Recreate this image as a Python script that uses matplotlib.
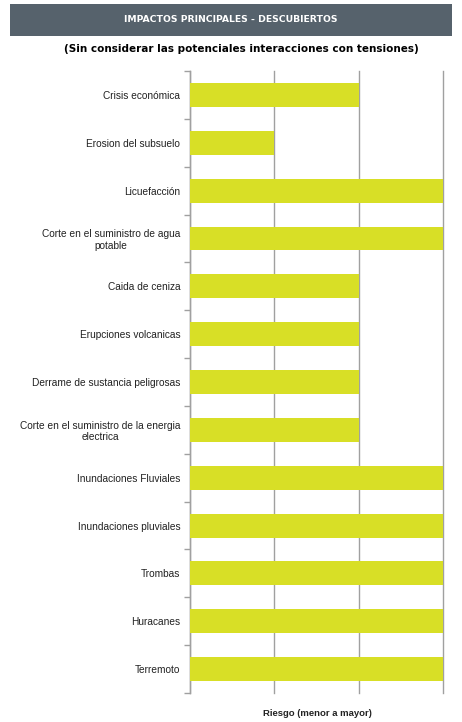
import matplotlib
matplotlib.use("Agg")
import matplotlib.pyplot as plt
from matplotlib.patches import Rectangle

categories = [
    "Crisis económica",
    "Erosion del subsuelo",
    "Licuefacción",
    "Corte en el suministro de agua\npotable",
    "Caida de ceniza",
    "Erupciones volcanicas",
    "Derrame de sustancia peligrosas",
    "Corte en el suministro de la energia\nelectrica",
    "Inundaciones Fluviales",
    "Inundaciones pluviales",
    "Trombas",
    "Huracanes",
    "Terremoto",
]
values = [2, 1, 3, 3, 2, 2, 2, 2, 3, 3, 3, 3, 3]
x_ticks = [0, 1, 2, 3]

W, H = 462, 722
fig = plt.figure(figsize=(W / 100, H / 100), dpi=100)
fig.patch.set_facecolor("white")

# header band
fig.patches.append(Rectangle((10 / W, 1 - 36 / H), 442 / W, 32 / H,
                             transform=fig.transFigure, facecolor="#56626c",
                             edgecolor="none"))
fig.text(231 / W, 1 - 20 / H, "IMPACTOS PRINCIPALES - DESCUBIERTOS",
         color="white", fontsize=6.7, fontweight="bold", ha="center", va="center",
         family="DejaVu Sans")
fig.text(241 / W, 1 - 49 / H, "(Sin considerar las potenciales interacciones con tensiones)",
         color="black", fontsize=7.5, fontweight="bold", ha="center", va="center",
         family="DejaVu Sans")

left, right = 190 / W, 443 / W
top, bottom = 1 - 71 / H, 1 - 693 / H
ax = fig.add_axes([left, bottom, right - left, top - bottom])

n = len(categories)
ypos = list(range(n))
ax.barh(ypos, values, height=0.5, color="#d8df26", zorder=3)
ax.set_ylim(n - 0.5, -0.5)
ax.set_xlim(0, 3)
ax.set_xticks(x_ticks)
ax.set_xticklabels([])
ax.tick_params(axis="x", length=0)
ax.grid(axis="x", color="#a0a0a0", linewidth=1.0, zorder=0)
for gl in ax.get_xgridlines():
    gl.set_clip_on(False)

ax.set_yticks([i - 0.5 for i in range(n + 1)], minor=True)
ax.set_yticks(ypos)
ax.set_yticklabels(categories, fontsize=7.3, ha="right", multialignment="center",
                   family="Liberation Sans", color="#222222")
ax.tick_params(axis="y", which="major", length=0, pad=7)
ax.tick_params(axis="y", which="minor", length=4, color="#a0a0a0", width=1)

for s in ["top", "right", "bottom"]:
    ax.spines[s].set_visible(False)
ax.spines["left"].set_color("#a0a0a0")
ax.spines["left"].set_linewidth(1.0)

fig.text(317 / W, 1 - 714 / H, "Riesgo (menor a mayor)",
         fontsize=6.8, fontweight="bold", ha="center", va="center",
         family="Liberation Sans", color="#222222")

fig.savefig("out.png", dpi=100)
